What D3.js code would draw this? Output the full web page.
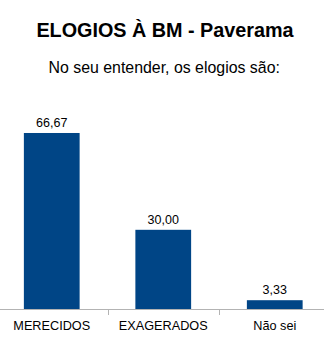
<!DOCTYPE html>
<html><head><meta charset="utf-8">
<script src="https://cdn.jsdelivr.net/npm/d3@7"></script>
<style>body{margin:0;background:#fff}svg{display:block}</style>
</head><body>
<script>
const categories = ["MERECIDOS", "EXAGERADOS", "Não sei"];
const values = [66.67, 30.00, 3.33];
const title = "ELOGIOS À BM - Paverama";
const subtitle = "No seu entender, os elogios são:";

const W = 324, H = 340;
const svg = d3.select("body").append("svg").attr("width", W).attr("height", H);
const font = "'Liberation Sans', Arial, sans-serif";

svg.append("text").attr("x", 165).attr("y", 37.3).attr("text-anchor", "middle")
  .attr("font-family", font).attr("font-weight", "bold").attr("font-size", 19.8).attr("fill", "#000").text(title);
svg.append("text").attr("x", 164.2).attr("y", 72.5).attr("text-anchor", "middle")
  .attr("font-family", font).attr("font-size", 15.9).attr("fill", "#000").text(subtitle);

const x = d3.scaleBand().domain(categories).range([-4, 330.5]).paddingInner(0.5).paddingOuter(0.25);
const y = d3.scaleLinear().domain([0, 70]).range([309, 124.2]);

svg.selectAll("rect.bar").data(values).enter().append("rect").attr("class", "bar")
  .attr("x", (d, i) => x(categories[i])).attr("width", x.bandwidth())
  .attr("y", d => y(d)).attr("height", d => y(0) - y(d)).attr("fill", "#004586");

svg.selectAll("text.val").data(values).enter().append("text").attr("class", "val")
  .attr("x", (d, i) => x(categories[i]) + x.bandwidth() / 2).attr("y", d => y(d) - 6)
  .attr("text-anchor", "middle").attr("font-family", font).attr("font-size", 12.5).attr("fill", "#000")
  .text(d => d.toFixed(2).replace(".", ","));

const g = svg.append("g").attr("transform", `translate(0,${y(0)})`);
g.append("line").attr("x1", 0).attr("x2", W).attr("y1", 0.5).attr("y2", 0.5).attr("stroke", "#b3b3b3");
const bounds = categories.slice(1).map(c => x(c) - x.step() * x.paddingInner() / 2);
g.selectAll("line.tk").data(bounds).enter().append("line").attr("class", "tk")
  .attr("x1", d => Math.round(d) + 0.5).attr("x2", d => Math.round(d) + 0.5).attr("y1", 0).attr("y2", 6).attr("stroke", "#b3b3b3");
g.selectAll("text.cat").data(categories).enter().append("text").attr("class", "cat")
  .attr("x", d => x(d) + x.bandwidth() / 2).attr("y", 21).attr("text-anchor", "middle")
  .attr("font-family", font).attr("font-size", 12.7).attr("fill", "#000").text(d => d);
</script>
</body></html>
